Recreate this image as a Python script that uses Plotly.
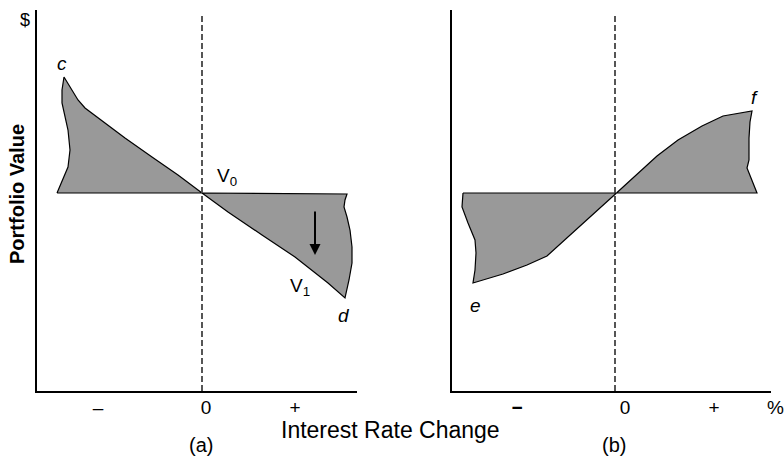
import plotly.graph_objs as go
from plotly.subplots import make_subplots

# Schematic values (x = rate change, y = value relative to V0)

# panel (a): c lobe (rates fall) and d lobe (rates rise)
a_c_x = [-1.45, -1.34, -1.32, -1.34, -1.40, -1.40, -1.38, -1.30, -1.24, -1.17,
         -1.04, -0.77, -0.50, -0.24, 0.0, -1.45]
a_c_y = [0.0, 0.26, 0.43, 0.63, 0.90, 1.03, 1.16, 1.03, 0.93, 0.85,
         0.75, 0.55, 0.36, 0.18, 0.0, 0.0]
a_d_x = [0.0, 1.45, 1.43, 1.42, 1.45, 1.48, 1.50, 1.50, 1.47, 1.43,
         1.26, 1.10, 0.93, 0.60, 0.26, 0.0]
a_d_y = [0.0, -0.01, -0.07, -0.14, -0.24, -0.37, -0.54, -0.70, -0.87, -1.05,
         -0.90, -0.77, -0.64, -0.42, -0.19, 0.0]

# panel (b): e lobe and f lobe
b_e_x = [-1.52, 0.015, -0.25, -0.48, -0.68, -0.88, -1.12, -1.42, -1.40, -1.39,
         -1.40, -1.47, -1.53, -1.52]
b_e_y = [0.0, 0.0, -0.24, -0.45, -0.63, -0.72, -0.81, -0.90, -0.77, -0.60,
         -0.47, -0.30, -0.14, 0.0]
b_f_x = [0.015, 0.23, 0.42, 0.63, 0.87, 1.08, 1.37, 1.35, 1.34, 1.34, 1.32, 1.42, 0.015]
b_f_y = [0.0, 0.20, 0.37, 0.53, 0.67, 0.77, 0.82, 0.71, 0.55, 0.33, 0.25, 0.0, 0.0]

# shift shown by the arrow (V0 curve -> V1 curve)
shift_x = [1.13, 1.13]
shift_y = [-0.17, -0.62]

# tick labels
ticks_a = [-1.04, 0.04, 0.93]
ticks_b = [-0.98, 0.10, 0.99]
ticktext_a = ['–', '0', '+']
ticktext_b = ['<b>−</b>', '0', '+']

x_range_a = [-1.65, 1.55]
x_range_b = [-1.63, 1.56]
y_range = [-1.98, 1.83]
dash_top = 1.80

FONT = 'Liberation Sans, Arial, Helvetica, sans-serif'
GREY = '#999999'

W, H = 784, 456

fig = make_subplots(rows=1, cols=2)

# shaded lobes
for xs, ys, col in [(a_c_x, a_c_y, 1), (a_d_x, a_d_y, 1),
                    (b_e_x, b_e_y, 2), (b_f_x, b_f_y, 2)]:
    fig.add_trace(
        go.Scatter(x=xs, y=ys, mode='lines', fill='toself',
                   fillcolor=GREY, line=dict(color='black', width=1.2),
                   hoverinfo='skip'),
        row=1, col=col)

# dashed zero lines
for col in [1, 2]:
    fig.add_trace(
        go.Scatter(x=[0, 0], y=[y_range[0], dash_top], mode='lines',
                   line=dict(color='#444444', width=1.8, dash='6px,3px'),
                   hoverinfo='skip'),
        row=1, col=col)

axis_style = dict(showline=True, linecolor='black', linewidth=1.6,
                  showgrid=False, zeroline=False, ticks='', mirror=False)

fig.update_xaxes(axis_style)
fig.update_yaxes(axis_style)

fig.update_xaxes(domain=[37 / W, 357 / W], range=x_range_a,
                 tickvals=ticks_a, ticktext=ticktext_a,
                 tickfont=dict(size=19, color='black', family=FONT),
                 ticklabelstandoff=-2, row=1, col=1)
fig.update_xaxes(domain=[452 / W, 771 / W], range=x_range_b,
                 tickvals=ticks_b, ticktext=ticktext_b,
                 tickfont=dict(size=19, color='black', family=FONT),
                 ticklabelstandoff=-2, row=1, col=2)
fig.update_yaxes(domain=[1 - 391 / H, 1 - 10 / H], range=y_range,
                 showticklabels=False)


def label(text, x, y, xref='paper', yref='paper', size=19, **kw):
    return dict(text=text, x=x, y=y, xref=xref, yref=yref, showarrow=False,
                xanchor=kw.pop('xanchor', 'center'), yanchor='middle',
                font=dict(size=size, family=FONT, color='black'), **kw)


ann = []
# point labels
ann.append(label('<i>c</i>', -1.40, 1.29, 'x', 'y'))
ann.append(label('<i>d</i>', 1.42, -1.22, 'x', 'y'))
ann.append(label('<i>e</i>', -1.40, -1.12, 'x2', 'y2'))
ann.append(label('<i>f</i>', 1.39, 0.95, 'x2', 'y2'))
ann.append(label('V<sub>0</sub>', 0.13, 0.16, 'x', 'y', xanchor='left'))
ann.append(label('V<sub>1</sub>', 0.86, -0.94, 'x', 'y', xanchor='left'))
# arrow
ann.append(dict(text='', x=shift_x[1], y=shift_y[1], ax=shift_x[0], ay=shift_y[0],
                xref='x', yref='y', axref='x', ayref='y', showarrow=True,
                arrowhead=2, arrowsize=1.1, arrowwidth=2, arrowcolor='black'))
# axis titles and captions
ann.append(label('$', 25 / W, 1 - 20 / H, size=18))
ann.append(label('<b>Portfolio Value</b>', 17 / W, 1 - 194 / H, size=20, textangle=-90))
ann.append(label('Interest Rate Change', 390 / W, 1 - 430 / H, size=23))
ann.append(label('(a)', 201 / W, 1 - 445 / H, size=20))
ann.append(label('(b)', 614 / W, 1 - 445 / H, size=20))
ann.append(label('%', 775 / W, 1 - 407 / H))

fig.update_layout(width=W, height=H, showlegend=False,
                  margin=dict(l=0, r=0, t=0, b=0),
                  plot_bgcolor='white', paper_bgcolor='white',
                  annotations=ann)

# page margin off so the 784x456 figure fills the window exactly
fig.write_html('out.html', config={'displayModeBar': False},
               post_script="document.body.style.margin='0';"
                           "document.body.style.overflow='hidden';")
